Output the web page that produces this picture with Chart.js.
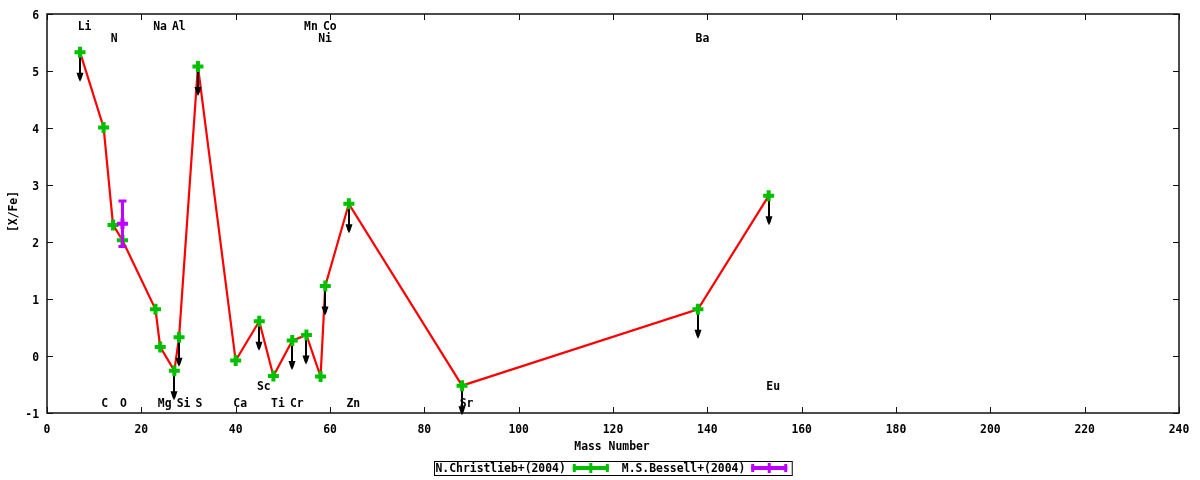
<!DOCTYPE html>
<html lang="en">
  <head>
    <meta charset="UTF-8" />
    <title>[X/Fe] vs Mass Number</title>
    <script src="https://cdn.jsdelivr.net/npm/chart.js@4.4.1/dist/chart.umd.min.js"></script>
    <style>
      body { margin: 0; background: #fff; }
    </style>
  </head>
  <body>
    <canvas id="myChart" width="1200" height="480"></canvas>
    <script>
      // N.Christlieb+(2004)
      const massNumber = [7, 12, 14, 16, 23, 24, 27, 28, 32, 40, 45, 48, 52, 55, 58, 59, 64, 88, 138, 153];
      const xFe = [5.33, 4.01, 2.3, 2.03, 0.82, 0.16, -0.26, 0.33, 5.08, -0.08, 0.61, -0.35, 0.27, 0.37, -0.36, 1.23, 2.67, -0.52, 0.82, 2.81];
      const upperLimit = [true, false, false, false, false, false, true, true, true, false, true, false, true, true, false, true, true, true, true, true];

      // M.S.Bessell+(2004)
      const bessellMass = [16];
      const bessellXFe = [2.32];
      const bessellErr = [0.4];

      // element labels (x, y in data units)
      const labelText = ["Li", "N", "Na", "Al", "Mn", "Co", "Ni", "Ba", "C", "O", "Mg", "Si", "S", "Ca", "Sc", "Ti", "Cr", "Zn", "Sr", "Eu"];
      const labelX = [6.5, 13.5, 22.5, 26.5, 54.5, 58.5, 57.5, 137.5, 11.5, 15.5, 23.5, 27.5, 31.5, 39.5, 44.5, 47.5, 51.5, 63.5, 87.5, 152.5];
      const labelY = [5.77, 5.555, 5.77, 5.77, 5.77, 5.77, 5.555, 5.555, -0.84, -0.84, -0.84, -0.84, -0.84, -0.84, -0.55, -0.84, -0.84, -0.84, -0.84, -0.54];

      const xTicks = [0, 20, 40, 60, 80, 100, 120, 140, 160, 180, 200, 220, 240];
      const yTicks = [-1, 0, 1, 2, 3, 4, 5, 6];

      const FAMILY = "'DejaVu Sans Mono', monospace";
      const FONT = "bold 11.4px " + FAMILY;
      const GREEN = "#00c000";
      const MAGENTA = "#c000ff";

      function toPoints(xs, ys) {
        return xs.map((x, i) => ({ x: x, y: ys[i] }));
      }

      function errorBar(g, x, yTop, yBot, color, cap) {
        g.save();
        g.strokeStyle = color;
        g.lineWidth = 3;
        g.beginPath();
        g.moveTo(x, yTop);
        g.lineTo(x, yBot);
        g.moveTo(x - cap, yTop);
        g.lineTo(x + cap, yTop);
        g.moveTo(x - cap, yBot);
        g.lineTo(x + cap, yBot);
        g.stroke();
        g.restore();
      }

      function legendSample(g, x, y, w, color) {
        g.strokeStyle = color;
        g.lineWidth = 4;
        g.beginPath();
        g.moveTo(x, y);
        g.lineTo(x + w, y);
        g.stroke();
        g.lineWidth = 3;
        g.beginPath();
        g.moveTo(x + 1.5, y - 4);
        g.lineTo(x + 1.5, y + 4);
        g.moveTo(x + w - 1.5, y - 4);
        g.lineTo(x + w - 1.5, y + 4);
        g.moveTo(x + w / 2, y - 5);
        g.lineTo(x + w / 2, y + 5);
        g.stroke();
      }

      const decor = {
        id: "decor",
        afterDatasetDraw(chart, args) {
          const g = chart.ctx;
          const xs = chart.scales.x;
          const ys = chart.scales.y;
          if (args.index === 0) {
            // upper limit arrows
            g.save();
            g.strokeStyle = "#000";
            g.fillStyle = "#000";
            g.lineWidth = 2;
            massNumber.forEach((m, i) => {
              if (!upperLimit[i]) return;
              const px = Math.round(xs.getPixelForValue(m));
              const y0 = ys.getPixelForValue(xFe[i]);
              const y1 = ys.getPixelForValue(xFe[i] - 0.5);
              g.beginPath();
              g.moveTo(px, y0);
              g.lineTo(px, y1 - 4);
              g.stroke();
              g.beginPath();
              g.moveTo(px - 3.5, y1 - 8);
              g.lineTo(px + 3.5, y1 - 8);
              g.lineTo(px + 1.5, y1 - 2);
              g.lineTo(px, y1 + 1);
              g.lineTo(px - 1.5, y1 - 2);
              g.closePath();
              g.fill();
            });
            g.restore();
          }
          if (args.index === 1) {
            bessellMass.forEach((m, i) => {
              errorBar(g, xs.getPixelForValue(m),
                ys.getPixelForValue(bessellXFe[i] + bessellErr[i]),
                ys.getPixelForValue(bessellXFe[i] - bessellErr[i]), MAGENTA, 4);
            });
          }
        },
        afterDraw(chart) {
          const g = chart.ctx;
          const a = chart.chartArea;
          const xs = chart.scales.x;
          const ys = chart.scales.y;
          g.save();
          // frame
          g.strokeStyle = "#111";
          g.lineWidth = 1.5;
          g.strokeRect(a.left, a.top, a.right - a.left, a.bottom - a.top);
          // inward ticks
          g.lineWidth = 1;
          g.beginPath();
          xTicks.forEach((t) => {
            const px = Math.round(xs.getPixelForValue(t)) + 0.5;
            g.moveTo(px, a.bottom);
            g.lineTo(px, a.bottom - 6);
            g.moveTo(px, a.top);
            g.lineTo(px, a.top + 6);
          });
          yTicks.forEach((t) => {
            const py = Math.round(ys.getPixelForValue(t)) + 0.5;
            g.moveTo(a.left, py);
            g.lineTo(a.left + 6, py);
            g.moveTo(a.right, py);
            g.lineTo(a.right - 6, py);
          });
          g.stroke();

          // element labels
          g.font = FONT;
          g.fillStyle = "#000";
          g.textAlign = "left";
          g.textBaseline = "middle";
          labelText.forEach((t, i) => {
            g.fillText(t, xs.getPixelForValue(labelX[i]), ys.getPixelForValue(labelY[i]));
          });

          // axis titles
          const midX = (a.left + a.right) / 2;
          g.textAlign = "center";
          g.fillText("Mass Number", midX - 1, 447);
          g.save();
          g.translate(14, (a.top + a.bottom) / 2 - 2);
          g.rotate(-Math.PI / 2);
          g.fillText("[X/Fe]", 0, 0);
          g.restore();

          // legend
          const names = ["N.Christlieb+(2004)", "M.S.Bessell+(2004)"];
          const colors = [GREEN, MAGENTA];
          const sample = 36;
          const w0 = g.measureText(names[0]).width;
          const w1 = g.measureText(names[1]).width;
          const total = 1 + w0 + 7 + sample + 13 + w1 + 6 + sample + 5;
          const lx = Math.round(midX - total / 2);
          const ly = 468;
          g.strokeStyle = "#000";
          g.lineWidth = 1;
          g.strokeRect(lx + 0.5, 461.5, total, 14);
          g.textAlign = "left";
          g.fillStyle = "#000";
          let cx = lx + 1.5;
          g.fillText(names[0], cx, ly + 1);
          cx += w0 + 7;
          legendSample(g, cx, ly, sample, colors[0]);
          cx += sample + 13;
          g.fillText(names[1], cx, ly + 1);
          cx += w1 + 6;
          legendSample(g, cx, ly, sample, colors[1]);
          g.restore();
        },
      };

      const ctx = document.getElementById("myChart").getContext("2d");
      const myChart = new Chart(ctx, {
        type: "scatter",
        data: {
          datasets: [
            {
              label: "line",
              data: toPoints(massNumber, xFe),
              showLine: true,
              borderColor: "#ff0000",
              borderWidth: 2.2,
              pointRadius: 0,
              order: 3,
            },
            {
              label: "M.S.Bessell+(2004)",
              data: toPoints(bessellMass, bessellXFe),
              pointStyle: "cross",
              pointRadius: 5.5,
              pointBorderWidth: 4,
              borderColor: MAGENTA,
              backgroundColor: MAGENTA,
              order: 1,
            },
            {
              label: "N.Christlieb+(2004)",
              data: toPoints(massNumber, xFe),
              pointStyle: "cross",
              pointRadius: 5.5,
              pointBorderWidth: 4,
              borderColor: GREEN,
              backgroundColor: GREEN,
              order: 2,
            },
          ],
        },
        options: {
          responsive: false,
          animation: false,
          events: [],
          layout: { padding: { top: 14, right: 21, left: 0, bottom: 0 } },
          plugins: { legend: { display: false }, tooltip: { enabled: false } },
          scales: {
            x: {
              type: "linear",
              min: 0,
              max: 240,
              grid: { display: false },
              border: { display: false },
              afterFit: (s) => { s.height = 67; },
              ticks: {
                stepSize: 20,
                padding: 2,
                color: "#000",
                font: { family: FAMILY, size: 11.4, weight: "bold" },
              },
            },
            y: {
              min: -1,
              max: 6,
              grid: { display: false },
              border: { display: false },
              afterFit: (s) => { s.width = 47; },
              ticks: {
                stepSize: 1,
                padding: 0,
                labelOffset: 2,
                color: "#000",
                font: { family: FAMILY, size: 11.4, weight: "bold" },
              },
            },
          },
        },
        plugins: [decor],
      });
    </script>
  </body>
</html>
